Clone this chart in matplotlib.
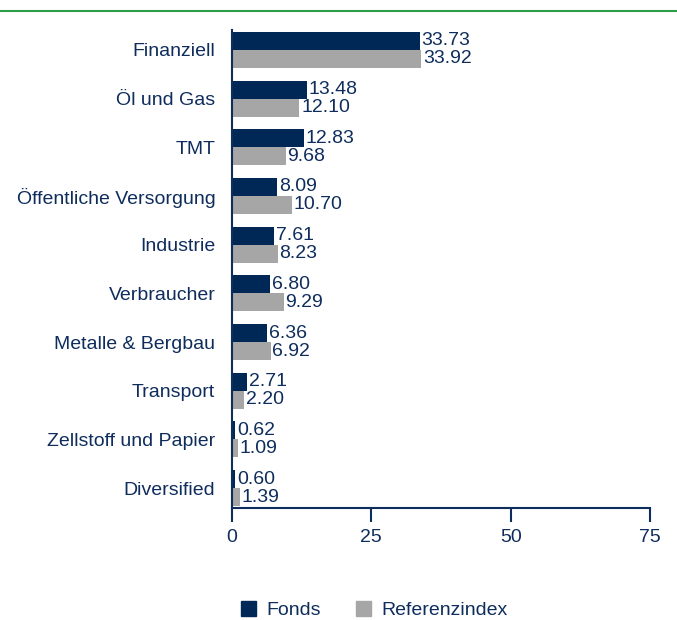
import matplotlib.pyplot as plt
from matplotlib.patches import Patch
from matplotlib.lines import Line2D

plt.rcParams['font.family'] = ['Liberation Sans', 'DejaVu Sans']

categories = ["Finanziell", "Öl und Gas", "TMT", "Öffentliche Versorgung",
              "Industrie", "Verbraucher", "Metalle & Bergbau", "Transport",
              "Zellstoff und Papier", "Diversified"]
fonds = [33.73, 13.48, 12.83, 8.09, 7.61, 6.80, 6.36, 2.71, 0.62, 0.60]
referenz = [33.92, 12.10, 9.68, 10.70, 8.23, 9.29, 6.92, 2.20, 1.09, 1.39]

NAVY = "#002856"
GREY = "#a6a6a6"
TEXT = "#0f2d5c"
FS = 14

fig = plt.figure(figsize=(6.77, 6.2), dpi=100)
ax = fig.add_axes([232 / 677, 1 - 508 / 620, 418 / 677, 478 / 620])

h = 0.37
pos = list(range(len(categories)))
ax.barh([p - h / 2 for p in pos], fonds, height=h, color=NAVY)
ax.barh([p + h / 2 for p in pos], referenz, height=h, color=GREY)

for p, f, r in zip(pos, fonds, referenz):
    ax.text(f + 0.3, p - h / 2, f"{f:.2f}", va="center", ha="left", fontsize=FS, color=TEXT)
    ax.text(r + 0.3, p + h / 2, f"{r:.2f}", va="center", ha="left", fontsize=FS, color=TEXT)

ax.set_xlim(0, 75)
ax.set_ylim(9.41, -0.41)
ax.set_yticks(pos)
ax.set_yticklabels(categories, fontsize=FS, color=TEXT)
ax.tick_params(axis="y", length=0, pad=12)
ax.set_xticks([0, 25, 50, 75])
ax.tick_params(axis="x", length=10, width=1.5, color=TEXT, labelcolor=TEXT, labelsize=FS, pad=5)

for s in ["top", "right"]:
    ax.spines[s].set_visible(False)
for s in ["left", "bottom"]:
    ax.spines[s].set_color(TEXT)
    ax.spines[s].set_linewidth(1.5)

fig.add_artist(Line2D([0, 1], [1 - 11 / 620, 1 - 11 / 620], color="#2e9b48", lw=1.5))

handles = [Patch(color=NAVY, label="Fonds"), Patch(color=GREY, label="Referenzindex")]
leg = fig.legend(handles=handles, loc="center", bbox_to_anchor=(374 / 677, 1 - 610 / 620),
                 ncol=2, frameon=False, fontsize=FS, handlelength=0.8, handleheight=0.8,
                 handletextpad=0.5, columnspacing=1.8)
for t in leg.get_texts():
    t.set_color(TEXT)

fig.savefig("out.png", dpi=100)
